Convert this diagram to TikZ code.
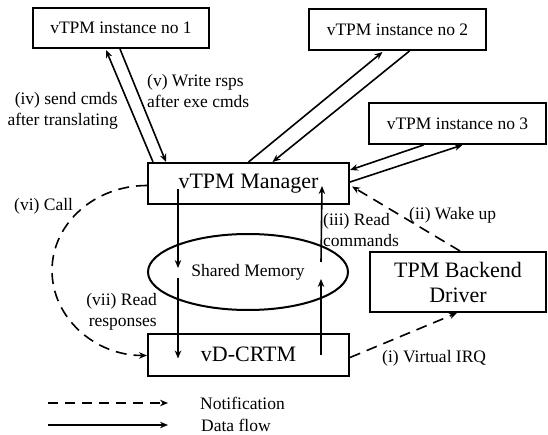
\documentclass[tikz,border=0pt]{standalone}
\usepackage{fontspec}
\setmainfont{Liberation Serif}
\usetikzlibrary{arrows.meta,calc,shapes.geometric}

\begin{document}
\begin{tikzpicture}[x=1pt,y=-1pt,
  box/.style={draw,line width=2pt,inner sep=0pt,align=center,
              font=\fontsize{17.5}{21}\selectfont},
  bigbox/.style={box,font=\fontsize{22}{25}\selectfont},
  lbl/.style={inner sep=0pt,font=\fontsize{17.5}{21}\selectfont},
  flow/.style={line width=1.6pt,-{Stealth[length=8pt,width=6.5pt]}},
  notif/.style={flow,dash pattern=on 11pt off 7pt},
]
\useasboundingbox (0,0) rectangle (548,435);

% components
\node[box,minimum width=176pt,minimum height=40pt] (inst1) at (121,28) {vTPM instance no 1};
\node[box,minimum width=177pt,minimum height=41pt] (inst2) at (397.5,29.5) {vTPM instance no 2};
\node[box,minimum width=177pt,minimum height=41pt] (inst3) at (457.5,123.5) {vTPM instance no 3};
\node[bigbox,minimum width=201pt,minimum height=41pt] (mgr) at (248.5,183.5) {vTPM Manager};
\node[bigbox,minimum width=176pt,minimum height=60pt] (tpm) at (458,282) {TPM Backend\\Driver};
\node[bigbox,minimum width=201pt,minimum height=42pt] (crtm) at (248.5,354.5) {vD-CRTM};
\node[draw,line width=2pt,ellipse,minimum width=200pt,minimum height=76pt,inner sep=0pt,
      font=\fontsize{17.5}{21}\selectfont] (shm) at (248,272) {Shared Memory};

% manager <-> instances
\draw[flow] ($(mgr.north west)+(6,0)$) -- ($(inst1.south)+(-15,1)$);
\draw[flow] ($(inst1.south)+(-1,0)$) -- ($(mgr.north west)+(19,0)$);
\draw[flow] (mgr.north) -- ($(inst2.south)+(-15,1)$);
\draw[flow] ($(inst2.south)+(12,0)$) -- ($(mgr.north)+(24,0)$);
\draw[flow] ($(inst3.south)+(-34,0)$) -- ($(mgr.north east)+(0,8)$);
\draw[flow] ($(mgr.north east)+(0,20)$) -- ($(inst3.south)+(5,0)$);

% shared memory data paths
\draw[flow] ($(mgr.south west)+(31,-16)$) -- ($(shm.west)+(31,-4)$);
\draw[flow] ($(shm.west)+(31,6)$) -- ($(crtm.north west)+(31,26)$);
\draw[flow] ($(crtm.north east)+(-29,22)$) -- ($(shm.east)+(-28,7)$);
\draw[flow] ($(shm.east)+(-28,-10)$) -- ($(mgr.south east)+(-28,-19)$);

% notifications
\draw[notif] ($(tpm.north)+(2,0)$) -- ($(mgr.east)+(2,3)$);
\draw[notif] ($(crtm.east)+(0,3)$) -- ($(tpm.south)+(-1,0)$);
\draw[notif] ($(mgr.west)+(0,2)$) arc[start angle=-90,end angle=-270,x radius=95,y radius=85];

% labels
\node[lbl,align=right,anchor=east] (l4) at (118,111) {(iv) send cmds\\after translating};
\node[lbl,align=left,anchor=west] (l5) at (147,91) {(v) Write rsps\\after exe cmds};
\node[lbl,anchor=west] (l6) at (14,206) {(vi) Call};
\node[lbl,align=right,anchor=east] (l7) at (157,312) {(vii) Read\\responses};
\node[lbl,align=left,anchor=west] (l3) at (323,230) {(iii) Read\\commands};
\node[lbl,anchor=west] (l2) at (409,215) {(ii) Wake up};
\node[lbl,anchor=west] (l1) at (382,358) {(i) Virtual IRQ};

% legend
\node[lbl,anchor=west] (ntxt) at (200,403) {Notification};
\node[lbl,anchor=west] (dtxt) at (201,425) {Data flow};
\coordinate (na) at (48,403);
\coordinate (da) at (48,425);
\draw[line width=1.6pt,dash pattern=on 10pt off 7pt,-{Stealth[length=8pt,width=6.5pt]}]
  (na) -- ($(ntxt.west)+(-32,0)$);
\draw[flow] (da) -- ($(dtxt.west)+(-33,0)$);
\end{tikzpicture}
\end{document}
